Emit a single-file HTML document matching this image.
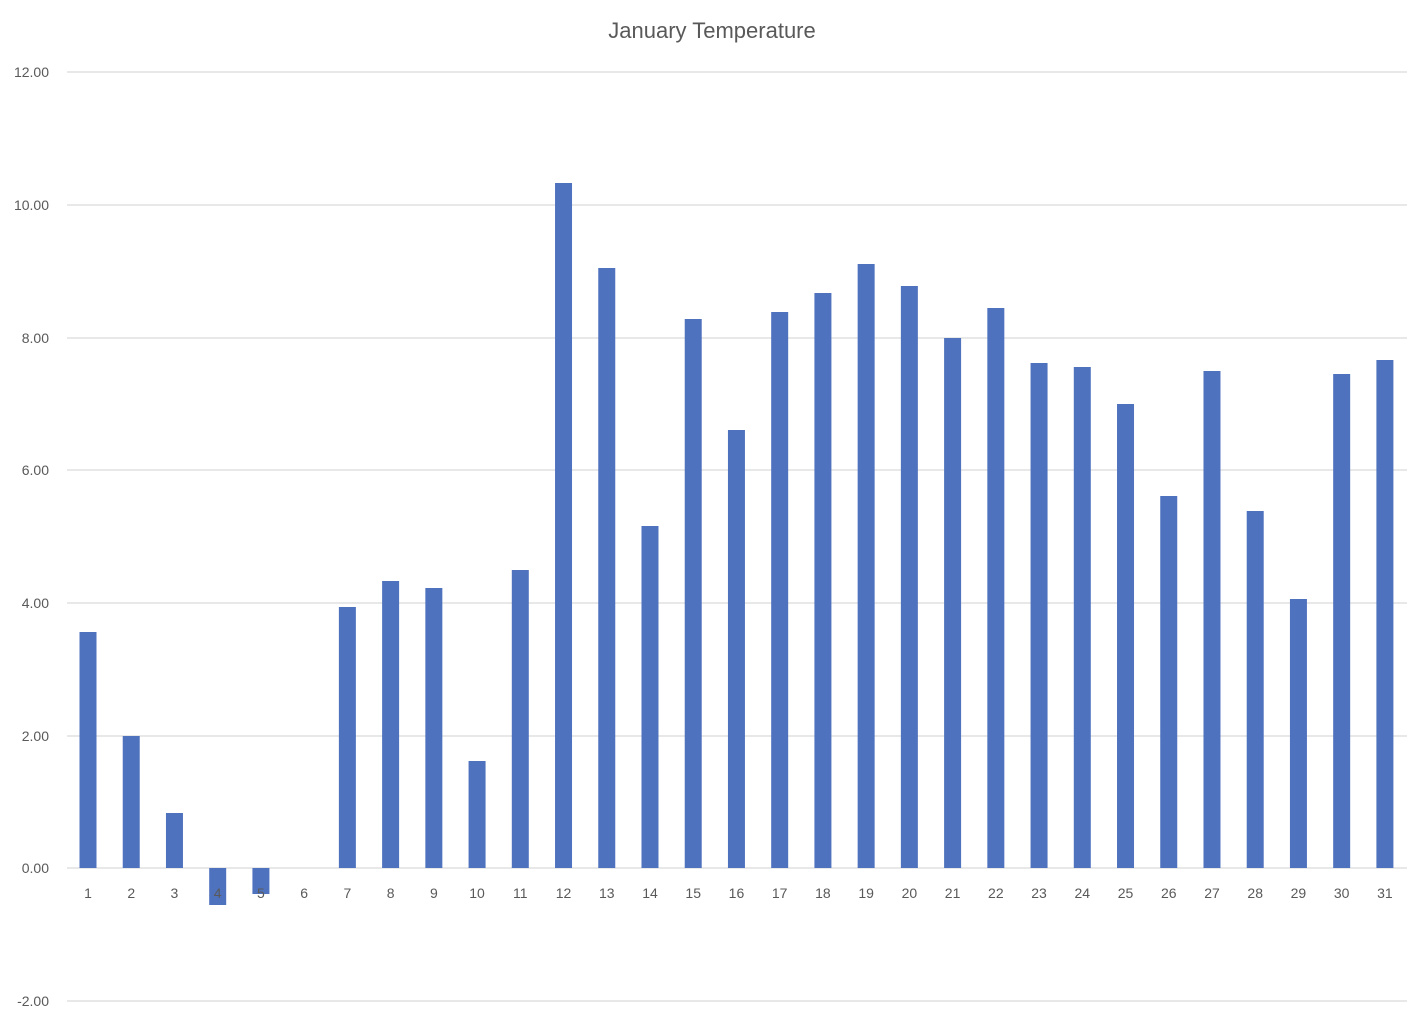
<!DOCTYPE html>
<html><head><meta charset="utf-8"><style>body{margin:0;background:#fff}</style></head><body>
<svg width="1426" height="1018" xmlns="http://www.w3.org/2000/svg" font-family="Liberation Sans, sans-serif">
<rect width="1426" height="1018" fill="#fff"/>
<text x="712" y="38" text-anchor="middle" font-size="22" fill="#595959">January Temperature</text>
<g stroke="#d9d9d9" stroke-width="1.3">
<line x1="67" x2="1407" y1="72" y2="72"/><line x1="67" x2="1407" y1="205" y2="205"/>
<line x1="67" x2="1407" y1="338" y2="338"/><line x1="67" x2="1407" y1="470" y2="470"/>
<line x1="67" x2="1407" y1="603" y2="603"/><line x1="67" x2="1407" y1="736" y2="736"/>
<line x1="67" x2="1407" y1="868" y2="868"/><line x1="67" x2="1407" y1="1001" y2="1001"/>
</g>
<g font-size="14" fill="#595959" text-anchor="end">
<text x="49" y="77">12.00</text><text x="49" y="210">10.00</text><text x="49" y="343">8.00</text>
<text x="49" y="475">6.00</text><text x="49" y="608">4.00</text><text x="49" y="741">2.00</text>
<text x="49" y="873">0.00</text><text x="49" y="1006">-2.00</text>
</g>
<g id="bars" fill="#4f72be"></g>
<g id="lbl" font-size="14" fill="#595959" text-anchor="middle"></g>
<script>
var tops=[632,736,813,905,894,868,607,581,588,761,570,183,268,526,319,430,312,293,264,286,338,308,363,367,404,496,371,511,599,374,360];
var b=document.getElementById('bars'),l=document.getElementById('lbl'),ns='http://www.w3.org/2000/svg';
for(var i=0;i<31;i++){var cx=88+i*43.23,t=tops[i],y=Math.min(t,868),h=Math.abs(868-t);
if(h>0){var r=document.createElementNS(ns,'rect');r.setAttribute('x',cx-8.5);r.setAttribute('y',y);r.setAttribute('width',17);r.setAttribute('height',h);b.appendChild(r);}
var tx=document.createElementNS(ns,'text');tx.setAttribute('x',cx);tx.setAttribute('y',898);tx.textContent=i+1;l.appendChild(tx);}
</script>
</svg>
</body></html>
